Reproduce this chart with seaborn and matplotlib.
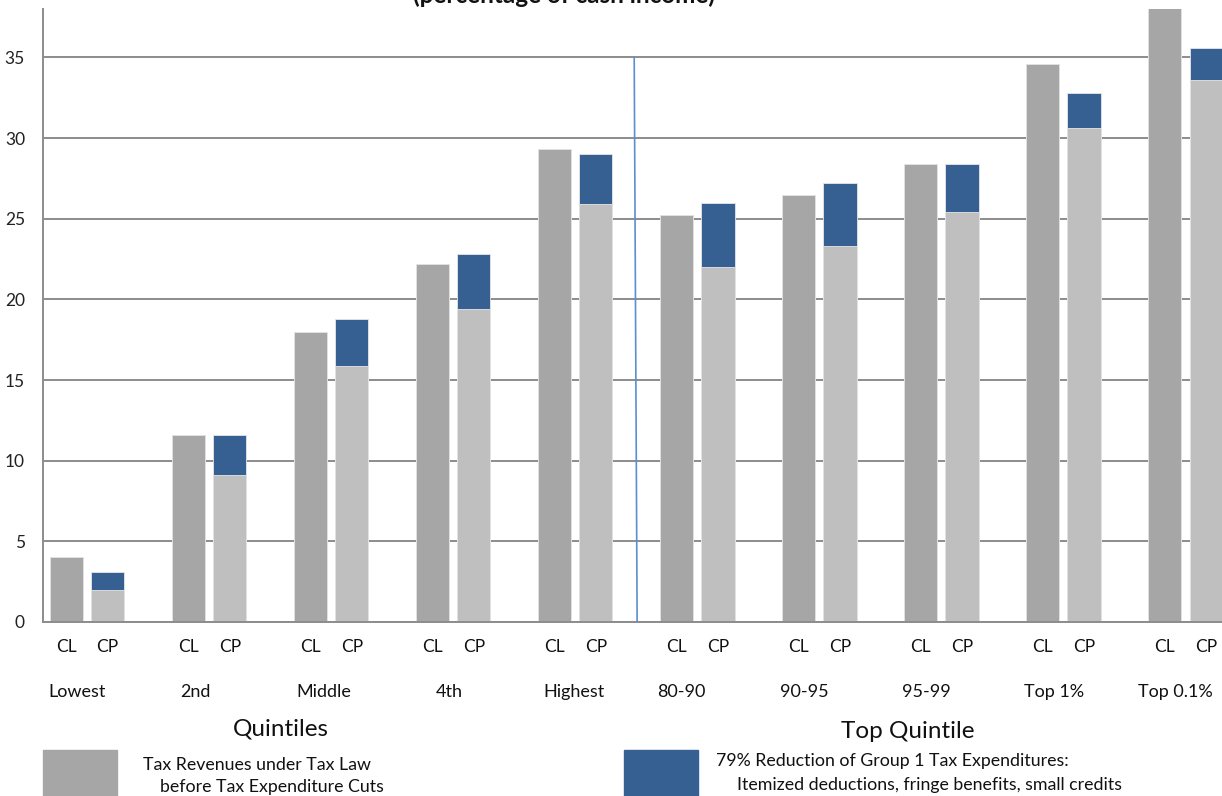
import matplotlib
matplotlib.use("Agg")
import matplotlib.pyplot as plt
import seaborn as sns
import pandas as pd
from matplotlib.patches import Rectangle

groups = ["Lowest", "2nd", "Middle", "4th", "Highest", "80-90", "90-95", "95-99", "Top 1%", "Top 0.1%"]
cl_values = [4.0, 11.6, 18.0, 22.2, 29.3, 25.2, 26.5, 28.4, 34.6, 38.4]
cp_base = [2.0, 9.1, 15.9, 19.4, 25.9, 22.0, 23.3, 25.4, 30.6, 33.6]
cp_total = [3.1, 11.6, 18.8, 22.8, 29.0, 26.0, 27.2, 28.4, 32.8, 35.6]
series = ["CL", "CP"]
yticks = [0, 5, 10, 15, 20, 25, 30, 35]

# layout only: horizontal nudge of each group name (in category units)
label_nudge = [-0.08, -0.11, -0.06, -0.03, -0.01, -0.13, -0.12, -0.12, -0.08, -0.08]

C_CL = "#a6a6a6"
C_CP = "#bfbfbf"
C_BLUE = "#376092"
GRID = "#8c8c8c"

sns.set_theme(style="white")
plt.rcParams["font.family"] = ["Lato", "DejaVu Sans"]

total_df = pd.DataFrame({
    "group": groups * 2,
    "series": ["CL"] * len(groups) + ["CP"] * len(groups),
    "value": cl_values + cp_total,
})
base_df = pd.DataFrame({
    "group": groups * 2,
    "series": ["CL"] * len(groups) + ["CP"] * len(groups),
    "value": cl_values + cp_base,
})

fig = plt.figure(figsize=(12.22, 7.96), dpi=100)
ax = fig.add_axes([43 / 1222, (796 - 622) / 796, (1222 - 43) / 1222, (622 - 9) / 796])

sns.barplot(data=total_df, x="group", y="value", hue="series", order=groups,
            hue_order=series, palette=[C_CL, C_BLUE], saturation=1, width=0.68, gap=0.2,
            ax=ax, legend=False, edgecolor="#e6e6e6", linewidth=0.6, zorder=3)
sns.barplot(data=base_df, x="group", y="value", hue="series", order=groups,
            hue_order=series, palette=[C_CL, C_CP], saturation=1, width=0.68, gap=0.2,
            ax=ax, legend=False, edgecolor="#e6e6e6", linewidth=0.6, zorder=3)

ax.set_xlim(-0.36, 9.30)
ax.set_ylim(0, 38)
ax.set_yticks(yticks)
ax.set_yticklabels([str(t) for t in yticks], fontsize=12.5, color="#222222")
ax.yaxis.grid(True, color=GRID, linewidth=1.4, zorder=0)
ax.set_axisbelow(True)
ax.tick_params(axis="y", length=0, pad=13)
ax.set_xticks([])
ax.set_xlabel("")
ax.set_ylabel("")
for s in ["top", "right"]:
    ax.spines[s].set_visible(False)
for s in ["left", "bottom"]:
    ax.spines[s].set_color(GRID)
    ax.spines[s].set_linewidth(1.4)
    ax.spines[s].set_zorder(4)

# divider between quintiles and top-quintile breakdown
ax.plot([4.484, 4.508], [35, 0], color="#5b8fd0", linewidth=1.2, zorder=5)

trans = ax.get_xaxis_transform()
for i, g in enumerate(groups):
    ax.text(i - 0.17, -0.04, "CL", transform=trans, ha="center", va="center",
            fontsize=12.5, color="#111111")
    ax.text(i + 0.17, -0.04, "CP", transform=trans, ha="center", va="center",
            fontsize=12.5, color="#111111")
    ax.text(i + label_nudge[i], -0.115, g, transform=trans, ha="center", va="center",
            fontsize=13, color="#111111")

fig.text(281 / 1222, 1 - 729 / 796, "Quintiles", ha="center", va="center",
         fontsize=17.5, color="#111111")
fig.text(908 / 1222, 1 - 731 / 796, "Top Quintile", ha="center", va="center",
         fontsize=17.5, color="#111111")

fig.text(564 / 1222, 1 - (-5) / 796, "(percentage of cash income)", ha="center",
         va="center", fontsize=17.5, fontweight="bold", color="#111111")

# legend
fig.patches.append(Rectangle((43 / 1222, 0), 74 / 1222, 46 / 796,
                             transform=fig.transFigure, color=C_CL))
fig.patches.append(Rectangle((624 / 1222, 0), 74 / 1222, 46 / 796,
                             transform=fig.transFigure, color=C_BLUE))
fig.text(143 / 1222, 1 - 765 / 796, "Tax Revenues under Tax Law", ha="left",
         va="center", fontsize=12.8, color="#111111")
fig.text(160 / 1222, 1 - 787 / 796, "before Tax Expenditure Cuts", ha="left",
         va="center", fontsize=12.8, color="#111111")
fig.text(716 / 1222, 1 - 761 / 796, "79% Reduction of Group 1 Tax Expenditures:",
         ha="left", va="center", fontsize=12.8, color="#111111")
fig.text(737 / 1222, 1 - 785 / 796,
         "Itemized deductions, fringe benefits, small credits",
         ha="left", va="center", fontsize=12.8, color="#111111")

fig.savefig("out.png", dpi=100)
